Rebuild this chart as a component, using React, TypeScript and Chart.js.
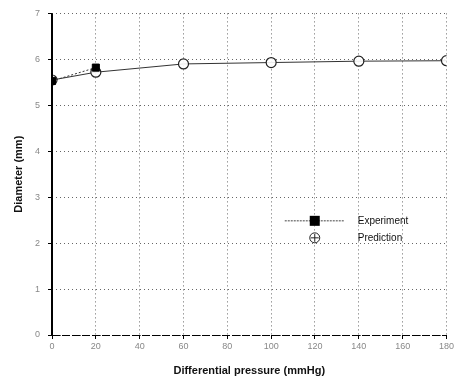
import React, { useEffect, useRef } from "react";
import { Chart, registerables } from "chart.js";

Chart.register(...registerables);

// Differential pressure (mmHg)
const expPressure = [0, 20];
const expDiameter = [5.53, 5.82];

const predPressure = [0, 20, 60, 100, 140, 180];
const predDiameter = [5.55, 5.72, 5.9, 5.93, 5.96, 5.97];

const xTicks = [0, 20, 40, 60, 80, 100, 120, 140, 160, 180];
const yTicks = [0, 1, 2, 3, 4, 5, 6, 7];

const seriesNames = ["Experiment", "Prediction"];

// Legend drawn inside the plot area, right of centre
const insideLegend = {
  id: "insideLegend",
  afterDraw(chart: any) {
    const { ctx, chartArea } = chart;
    const x0 = chartArea.left + (chartArea.right - chartArea.left) * 0.59;
    const y0 = chartArea.top + (chartArea.bottom - chartArea.top) * 0.645;
    ctx.save();
    // Experiment row
    ctx.strokeStyle = "#444";
    ctx.lineWidth = 1;
    ctx.setLineDash([2, 1]);
    ctx.beginPath();
    ctx.moveTo(x0, y0);
    ctx.lineTo(x0 + 60, y0);
    ctx.stroke();
    ctx.setLineDash([]);
    ctx.fillStyle = "#000";
    ctx.fillRect(x0 + 25, y0 - 5, 10, 10);
    // Prediction row
    ctx.fillStyle = "#fff";
    ctx.strokeStyle = "#222";
    ctx.beginPath();
    ctx.arc(x0 + 30, y0 + 17, 5, 0, Math.PI * 2);
    ctx.fill();
    ctx.stroke();
    ctx.beginPath();
    ctx.moveTo(x0 + 26, y0 + 17);
    ctx.lineTo(x0 + 34, y0 + 17);
    ctx.moveTo(x0 + 30, y0 + 13);
    ctx.lineTo(x0 + 30, y0 + 21);
    ctx.stroke();
    ctx.fillStyle = "#111";
    ctx.font = "10px 'Liberation Sans', Arial, sans-serif";
    ctx.textBaseline = "middle";
    ctx.fillText(seriesNames[0], x0 + 73, y0);
    ctx.fillText(seriesNames[1], x0 + 73, y0 + 17);
    ctx.restore();
  },
};

// Solid axis lines over the dotted grid
const solidAxes = {
  id: "solidAxes",
  afterDatasetsDraw(chart: any) {
    const { ctx, chartArea } = chart;
    ctx.save();
    ctx.strokeStyle = "#000";
    ctx.setLineDash([]);
    ctx.lineWidth = 2;
    ctx.beginPath();
    ctx.moveTo(chartArea.left, chartArea.top);
    ctx.lineTo(chartArea.left, chartArea.bottom);
    ctx.stroke();
    ctx.lineWidth = 1;
    ctx.setLineDash([8, 2]);
    ctx.beginPath();
    ctx.moveTo(chartArea.left, chartArea.bottom + 0.5);
    ctx.lineTo(chartArea.right, chartArea.bottom + 0.5);
    ctx.stroke();
    ctx.restore();
  },
};

export default function App() {
  const ref = useRef<HTMLCanvasElement | null>(null);

  useEffect(() => {
    if (!ref.current) return;
    const chart = new Chart(ref.current, {
      type: "scatter",
      data: {
        datasets: [
          {
            label: seriesNames[0],
            data: expPressure.map((x, i) => ({ x, y: expDiameter[i] })),
            showLine: true,
            borderColor: "#333",
            borderWidth: 1,
            borderDash: [2, 2],
            pointStyle: "rect",
            pointRadius: 5,
            backgroundColor: "#000",
            pointBorderColor: "#000",
          },
          {
            label: seriesNames[1],
            data: predPressure.map((x, i) => ({ x, y: predDiameter[i] })),
            showLine: true,
            borderColor: "#333",
            borderWidth: 1,
            pointStyle: "circle",
            pointRadius: 5,
            backgroundColor: "rgba(255,255,255,0.9)",
            pointBorderColor: "#222",
            pointBorderWidth: 1.2,
          },
        ],
      },
      options: {
        animation: false,
        responsive: false,
        layout: { padding: { top: 12, right: 8, left: 0, bottom: 0 } },
        plugins: { legend: { display: false }, tooltip: { enabled: false } },
        scales: {
          x: {
            type: "linear",
            min: 0,
            max: 180,
            afterBuildTicks: (s: any) => {
              s.ticks = xTicks.map((v) => ({ value: v }));
            },
            afterFit: (s: any) => {
              s.height = 43;
            },
            ticks: {
              color: "#888",
              font: { size: 9, family: "'Liberation Sans', Arial, sans-serif" },
              padding: 2,
            },
            grid: {
              color: "rgba(0,0,0,0.6)",
              tickColor: "#000",
              tickLength: 4,
            },
            border: { display: false, dash: [1, 3] },
            title: {
              display: true,
              text: "Differential pressure (mmHg)",
              color: "#111",
              font: { size: 11, weight: "bold", family: "'Liberation Sans', Arial, sans-serif" },
              padding: { top: 4, bottom: 0 },
            },
          },
          y: {
            type: "linear",
            min: 0,
            max: 7,
            afterBuildTicks: (s: any) => {
              s.ticks = yTicks.map((v) => ({ value: v }));
            },
            afterFit: (s: any) => {
              s.width = 52;
            },
            ticks: {
              color: "#888",
              font: { size: 9, family: "'Liberation Sans', Arial, sans-serif" },
              padding: 8,
            },
            grid: {
              color: "rgba(0,0,0,0.6)",
              tickColor: "#000",
              tickLength: 4,
            },
            border: { display: false, dash: [1, 3] },
            title: {
              display: true,
              text: "Diameter (mm)",
              color: "#111",
              font: { size: 11, weight: "bold", family: "'Liberation Sans', Arial, sans-serif" },
              padding: { top: 12, bottom: 0 },
            },
          },
        },
      },
      plugins: [insideLegend, solidAxes],
    } as any);
    return () => chart.destroy();
  }, []);

  return (
    <div style={{ position: "absolute", left: 0, top: 0, width: 456, height: 378, background: "#fff" }}>
      <canvas ref={ref} width={456} height={378} />
    </div>
  );
}
